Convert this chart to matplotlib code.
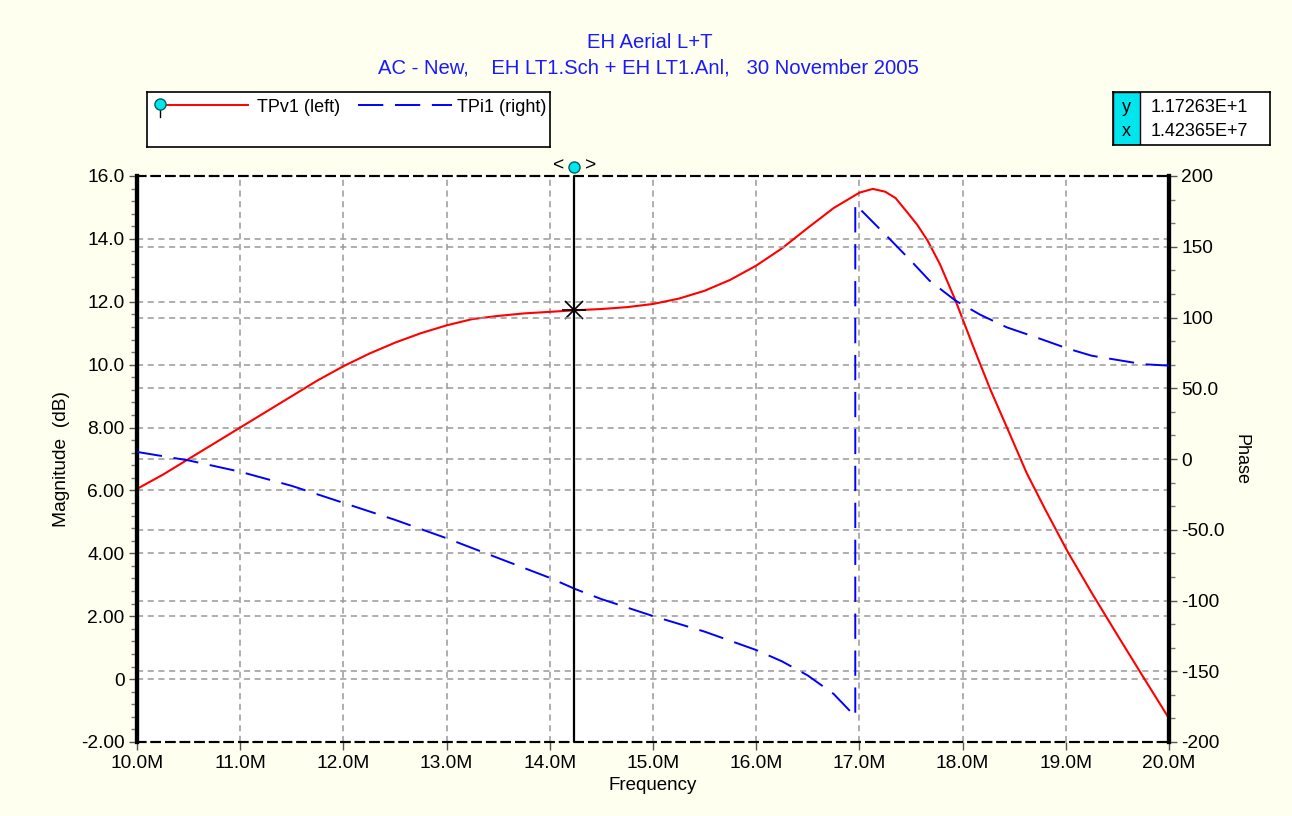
import matplotlib
matplotlib.use("Agg")
import matplotlib.pyplot as plt
from matplotlib.patches import Rectangle
from matplotlib.ticker import FixedLocator, FuncFormatter, MultipleLocator

plt.rcParams['font.family'] = ['Liberation Sans', 'DejaVu Sans']

# frequency in MHz
freq_v = [10.0, 10.25, 10.5, 10.75, 11.0, 11.25, 11.5, 11.75, 12.0, 12.25, 12.5, 12.75,
          13.0, 13.25, 13.5, 13.75, 14.0, 14.25, 14.5, 14.75, 15.0, 15.25, 15.5, 15.75,
          16.0, 16.25, 16.5, 16.75, 17.0, 17.13, 17.25, 17.35, 17.46, 17.56, 17.66, 17.78,
          17.93, 18.1, 18.27, 18.45, 18.62, 18.8, 19.02, 19.25, 19.5, 19.75, 20.0]
tpv1 = [6.05, 6.5, 7.0, 7.5, 8.0, 8.5, 9.0, 9.5, 9.95, 10.35, 10.7, 11.0,
        11.25, 11.45, 11.55, 11.63, 11.68, 11.73, 11.77, 11.83, 11.93, 12.1, 12.35, 12.7,
        13.15, 13.7, 14.35, 14.98, 15.47, 15.59, 15.5, 15.3, 14.86, 14.45, 13.95, 13.2,
        12.05, 10.6, 9.2, 7.85, 6.56, 5.4, 4.04, 2.75, 1.4, 0.07, -1.25]

freq_i = [10.0, 10.5, 11.0, 11.5, 12.0, 12.5, 13.0, 13.5, 14.0, 14.25, 14.5, 15.0,
          15.5, 16.0, 16.25, 16.5, 16.75, 16.96, 16.96, 17.3, 17.5, 17.68, 17.93, 18.17,
          18.43, 18.75, 19.02, 19.25, 19.5, 19.75, 20.0]
tpi1 = [5, -1, -9, -19, -31, -43, -56, -70, -84, -92, -99, -111,
        -122, -135, -143, -153, -166, -182, 180, 155, 140, 126, 112, 102,
        93, 85, 78, 73, 70, 67, 66]

cursor_x = 14.2365
cursor_y = 11.7263

left_ticks = [16, 14, 12, 10, 8, 6, 4, 2, 0, -2]
left_labels = ["16.0", "14.0", "12.0", "10.0", "8.00", "6.00", "4.00", "2.00", "0", "-2.00"]
right_ticks = [200, 150, 100, 50, 0, -50, -100, -150, -200]
right_labels = ["200", "150", "100", "50.0", "0", "-50.0", "-100", "-150", "-200"]

bg = '#FFFFF0'
blue_txt = '#1a1aff'
cyan = '#00e5ee'
fs = 13
tfs = 13.8

W, H = 1292, 816
fig = plt.figure(figsize=(W / 100, H / 100), dpi=100)
fig.patch.set_facecolor(bg)

def fig_rect(x0, y0, x1, y1):
    return [x0 / W, 1 - y1 / H, (x1 - x0) / W, (y1 - y0) / H]

ax = fig.add_axes(fig_rect(137, 176, 1169, 742))
ax.set_facecolor('white')
ax.set_xlim(10, 20)
ax.set_ylim(-2, 16)
ax2 = ax.twinx()
ax2.set_ylim(-200, 200)

grid_kw = dict(color='#999999', lw=1.1, dashes=(4, 3), zorder=0)
for v in range(11, 20):
    ax.axvline(v, **grid_kw)
for t in left_ticks[1:-1]:
    ax.axhline(t, **grid_kw)
for t in right_ticks[1:-1]:
    ax2.axhline(t, **grid_kw)

ax.set_xticks(range(10, 21))
ax.xaxis.set_major_formatter(FuncFormatter(lambda v, p: "%.1fM" % v))
ax.yaxis.set_major_locator(FixedLocator(left_ticks))
ax.set_yticklabels(left_labels)
ax.yaxis.set_minor_locator(MultipleLocator(0.4))
ax2.yaxis.set_major_locator(FixedLocator(right_ticks))
ax2.set_yticklabels(right_labels)
ax2.yaxis.set_minor_locator(MultipleLocator(50 / 3))

for a in (ax, ax2):
    a.tick_params(which='major', direction='out', length=6, width=1, color='#555555',
                  labelsize=tfs, pad=3)
    a.tick_params(which='minor', direction='out', length=4, width=1, color='#777777')
ax.xaxis.set_minor_locator(FixedLocator([]))

for a in (ax, ax2):
    a.spines['left'].set_linewidth(3)
    a.spines['right'].set_linewidth(3)
    a.spines['top'].set_linestyle((0, (4, 3)))
    a.spines['bottom'].set_linestyle((0, (4, 3)))
    a.spines['top'].set_linewidth(1.5)
    a.spines['bottom'].set_linewidth(1.5)

ax.plot(freq_v, tpv1, color='#ff0000', lw=1.5, zorder=3)
ax2.plot(freq_i, tpi1, color='#0000ff', lw=1.4, dashes=(13, 6), zorder=3)

ax.set_ylabel("Magnitude  (dB)", fontsize=13.8, labelpad=8)
ax2.set_ylabel("Phase", fontsize=fs, rotation=-90, labelpad=18)
ax.set_xlabel("Frequency", fontsize=13.5, labelpad=4)

# cursor
ax2.set_zorder(ax.get_zorder() + 1)
ax2.patch.set_visible(False)
ax2.axvline(cursor_x, color='black', lw=1.6, zorder=5)
ax.plot([cursor_x], [cursor_y], marker='x', ms=13, color='black', mew=1.2, zorder=6)
ax.plot([cursor_x], [cursor_y], marker='+', ms=17, color='black', mew=1.2, zorder=6)
ax.plot([cursor_x], [16.3], marker='o', ms=8, mfc=cyan, mec='#006060', clip_on=False, zorder=7)
ax.text(cursor_x - 0.1, 16.32, "<", ha='right', va='center', fontsize=tfs, clip_on=False)
ax.text(cursor_x + 0.1, 16.32, ">", ha='left', va='center', fontsize=tfs, clip_on=False)

# titles
fig.text(650 / W, 1 - 42 / H, "EH Aerial L+T", color=blue_txt, fontsize=14.6, ha='center', va='center')
fig.text(648 / W, 1 - 68 / H, "AC - New,    EH LT1.Sch + EH LT1.Anl,   30 November 2005",
         color=blue_txt, fontsize=14.6, ha='center', va='center')

# legend box
lg = fig.add_axes(fig_rect(147, 92, 550, 147))
lg.set_xlim(0, 403)
lg.set_ylim(55, 0)
lg.set_xticks([])
lg.set_yticks([])
lg.set_facecolor('white')
for s in lg.spines.values():
    s.set_linewidth(1.2)
lg.plot([13, 13], [12, 25], color='black', lw=1)
lg.plot([13, 101], [13, 13], color='#ff0000', lw=1.4)
lg.plot([13], [12], marker='o', ms=8, mfc=cyan, mec='#006060')
lg.text(110, 15, "TPv1 (left)", fontsize=fs, va='center')
lg.plot([211, 305], [13, 13], color='#0000ff', lw=1.4, dashes=(13, 6))
lg.text(310, 15, "TPi1 (right)", fontsize=fs, va='center')

# readout box
rb = fig.add_axes(fig_rect(1113, 92, 1270, 145))
rb.set_xlim(0, 157)
rb.set_ylim(53, 0)
rb.set_xticks([])
rb.set_yticks([])
rb.set_facecolor('white')
for s in rb.spines.values():
    s.set_linewidth(1.2)
rb.add_patch(Rectangle((0, 0), 27, 53, facecolor=cyan, edgecolor='black', lw=1))
rb.text(13, 15, "y", fontsize=fs, ha='center', va='center')
rb.text(13, 39, "x", fontsize=fs, ha='center', va='center')
rb.text(38, 15, "1.17263E+1", fontsize=fs, va='center')
rb.text(38, 39, "1.42365E+7", fontsize=fs, va='center')

fig.savefig("out.png", dpi=100, facecolor=bg)
